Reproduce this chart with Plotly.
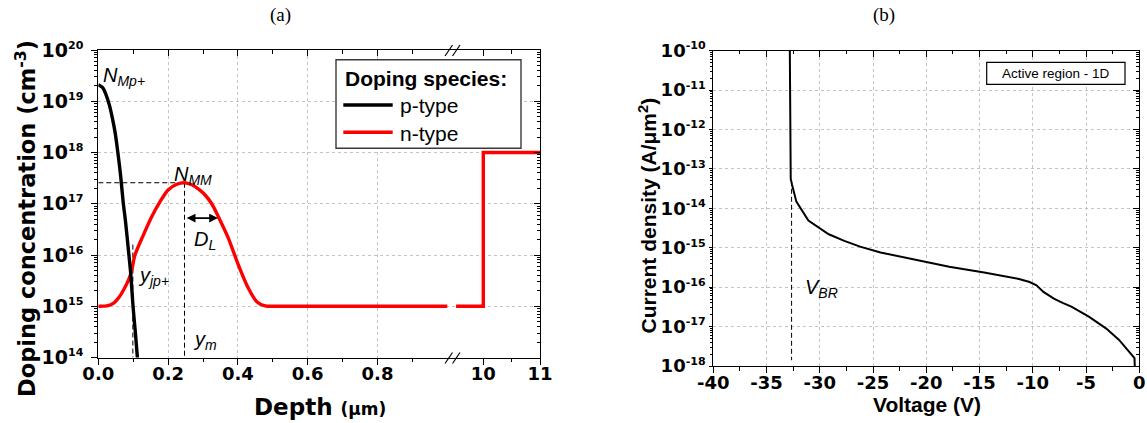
import math
import plotly.graph_objects as go

W, H = 1147, 423

# ---------------- (a) doping profiles ----------------
# p+ implant near the surface
p_depth = [0.0, 0.012, 0.022, 0.032, 0.040, 0.048, 0.057, 0.064, 0.071, 0.078,
           0.087, 0.093, 0.0995, 0.106, 0.112, 0.1145]
p_conc = [2.1e19, 1.86e19, 1.35e19, 8.3e18, 4.8e18, 2.5e18, 8.9e17, 3.5e17, 1.12e17, 4.5e16,
          1.12e16, 4.2e15, 1.0e15, 3.2e14, 1.0e14, 6.3e13]

# n-type buried peak on top of the epi background
n_depth = [0.0, 0.025, 0.045, 0.06, 0.075, 0.087, 0.095, 0.105, 0.129, 0.153,
           0.177, 0.2, 0.225, 0.247, 0.268, 0.29, 0.306, 0.325, 0.344, 0.3725,
           0.401, 0.43, 0.454, 0.478, 0.51, 0.6, 0.8, 1.0]
n_conc = [1.0e15, 1.02e15, 1.17e15, 1.51e15, 2.24e15, 3.3e15, 4.8e15, 1.0e16, 2.45e16, 5.6e16,
          1.1e17, 1.86e17, 2.4e17, 2.57e17, 2.34e17, 1.86e17, 1.48e17, 1.0e17, 5.6e16, 2.14e16,
          6.5e15, 2.24e15, 1.23e15, 1.02e15, 1.0e15, 1.0e15, 1.0e15, 1.0e15]

# deep part of the n-type profile (epi / substrate step)
n_deep_depth = [9.52, 10.0, 10.0, 11.0]
n_deep_conc = [1.0e15, 1.0e15, 1.0e18, 1.0e18]

peak_depth = 0.247          # y_m
peak_conc = 2.57e17         # N_MM
junction_depth = 0.099      # y_jp+
junction_mark_top = 1.6e16
lateral_arrow_depth = [0.249, 0.343]   # D_L
lateral_arrow_conc = 5.25e16

depth_ticks = [0.0, 0.2, 0.4, 0.6, 0.8]
depth_labels = ["0.0", "0.2", "0.4", "0.6", "0.8"]
depth_minor = [0.1, 0.3, 0.5, 0.7, 0.9]
deep_ticks = [10, 11]
deep_labels = ["10", "11"]
deep_minor = [10.5]
conc_ticks = [1e14, 1e15, 1e16, 1e17, 1e18, 1e19, 1e20]
conc_exponents = ["14", "15", "16", "17", "18", "19", "20"]

# ---------------- (b) reverse I-V ----------------
voltage = [-32.82, -32.80, -32.78, -32.73, -32.60, -32.20, -31.07, -30.1, -29.16, -27.7,
           -26.22, -24.3, -22.44, -20.0, -17.85, -14.57, -12.8, -11.3, -10.3, -9.65,
           -9.0, -8.02, -7.2, -6.38, -4.74, -3.1, -1.9, -0.87, -0.45, -0.42]
current = [1.5e-10, 1e-12, 1e-13, 5.6e-14, 3.9e-14, 1.48e-14, 4.9e-15, 3.2e-15, 2.2e-15, 1.5e-15,
           1.07e-15, 7.6e-16, 5.9e-16, 4.4e-16, 3.3e-16, 2.35e-16, 1.9e-16, 1.62e-16, 1.35e-16, 1.12e-16,
           7.6e-17, 5.1e-17, 4.0e-17, 3.2e-17, 1.78e-17, 8.9e-18, 4.6e-18, 2.14e-18, 1.58e-18, 9e-19]
v_br = -32.65
v_br_span = [5e-14, 1.4e-18]

volt_ticks = [-40, -35, -30, -25, -20, -15, -10, -5, 0]
volt_labels = ["-40", "-35", "-30", "-25", "-20", "-15", "-10", "-5", "0"]
cur_ticks = [1e-18, 1e-17, 1e-16, 1e-15, 1e-14, 1e-13, 1e-12, 1e-11, 1e-10]
cur_exponents = ["-18", "-17", "-16", "-15", "-14", "-13", "-12", "-11", "-10"]


def fx(px):
    return px / W


def fy(py):
    return 1 - py / H


def power_label(exp, size):
    return "<b>10<sup><span style='font-size:%dpx'>%s</span></sup></b>" % (size, exp)


SANS = "Liberation Sans, Arial, sans-serif"
WIDE = "DejaVu Sans, Verdana, sans-serif"
SERIF = "Liberation Serif, Times New Roman, serif"

fig = go.Figure()

# dashed guide lines (a)
dash_style = dict(color="black", width=1, dash="5px,3px")
fig.add_trace(go.Scatter(x=[0, peak_depth], y=[peak_conc, peak_conc], mode="lines",
                         line=dash_style, xaxis="x", yaxis="y", showlegend=False, hoverinfo="skip"))
fig.add_trace(go.Scatter(x=[peak_depth, peak_depth], y=[peak_conc, 1e14], mode="lines",
                         line=dash_style, xaxis="x", yaxis="y", showlegend=False, hoverinfo="skip"))
fig.add_trace(go.Scatter(x=[junction_depth, junction_depth], y=[junction_mark_top, 1e14], mode="lines",
                         line=dash_style, xaxis="x", yaxis="y", showlegend=False, hoverinfo="skip"))

# profiles
fig.add_trace(go.Scatter(x=n_depth, y=n_conc, mode="lines", name="n-type",
                         line=dict(color="#ff0000", width=3.4, shape="spline", smoothing=0.8),
                         xaxis="x", yaxis="y", showlegend=False))
fig.add_trace(go.Scatter(x=n_deep_depth, y=n_deep_conc, mode="lines", name="n-type",
                         line=dict(color="#ff0000", width=3.4),
                         xaxis="x2", yaxis="y", showlegend=False))
fig.add_trace(go.Scatter(x=p_depth, y=p_conc, mode="lines", name="p-type",
                         line=dict(color="black", width=3.4, shape="spline", smoothing=0.8),
                         xaxis="x", yaxis="y", showlegend=False))

# (b) breakdown marker and I-V curve
fig.add_trace(go.Scatter(x=[v_br, v_br], y=v_br_span, mode="lines",
                         line=dict(color="black", width=1, dash="5px,3px"),
                         xaxis="x5", yaxis="y3", showlegend=False, hoverinfo="skip"))
fig.add_trace(go.Scatter(x=voltage, y=current, mode="lines", name="Active region - 1D",
                         line=dict(color="black", width=2),
                         xaxis="x5", yaxis="y3", showlegend=False))

# empty traces so the top/right tick axes get their own subplots
for xa, ya in [("x3", "y"), ("x4", "y"), ("x2", "y2"), ("x6", "y3"), ("x5", "y4")]:
    fig.add_trace(go.Scatter(x=[None], y=[None], xaxis=xa, yaxis=ya,
                             showlegend=False, hoverinfo="skip"))

line_style = dict(showline=True, linecolor="black", linewidth=1.3, tickcolor="black",
                  tickwidth=1.3, zeroline=False, automargin=False)
grid_on = dict(showgrid=True, gridcolor="#c4c4c4", gridwidth=1, griddash="dot")
tick_a = dict(family=WIDE, size=19, color="black", weight="bold")
tick_ax = dict(family=WIDE, size=18, color="black", weight="bold")
tick_b = dict(family=WIDE, size=18, color="black", weight="bold")
tick_by = dict(family=WIDE, size=18, color="black", weight="bold")


def minor(ticks, **kw):
    d = dict(ticks=ticks, tickcolor="black", tickwidth=1, showgrid=False)
    d.update(kw)
    return d


xa0, xbrk, xa1 = 98.3, 451.7, 540.0
ya_top, ya_bot = 50.0, 357.5
xb0, xb1 = 713.3, 1139.3
yb_top, yb_bot = 50.7, 366.0
seg1_range = [0, 1.0126]
seg2_range = [9.443, 11]

fig.update_layout(
    width=W, height=H, margin=dict(l=0, r=0, t=0, b=0),
    paper_bgcolor="white", plot_bgcolor="white", showlegend=False,
    xaxis=dict(domain=[fx(xa0), fx(xbrk)], range=seg1_range, anchor="y", side="bottom",
               tickvals=depth_ticks, ticktext=["<b>%s</b>" % t for t in depth_labels],
               ticks="outside", ticklen=6, tickfont=tick_ax, ticklabelstandoff=-6,
               minor=minor("outside", tickvals=depth_minor, ticklen=3.5),
               **line_style, **grid_on),
    xaxis2=dict(domain=[fx(xbrk), fx(xa1)], range=seg2_range, anchor="y", side="bottom",
                tickvals=deep_ticks, ticktext=["<b>%s</b>" % t for t in deep_labels],
                ticks="outside", ticklen=6, tickfont=tick_ax, ticklabelstandoff=-6,
                showgrid=False, minor=minor("outside", tickvals=deep_minor, ticklen=3.5),
                **line_style),
    xaxis3=dict(overlaying="x", range=seg1_range, anchor="y", side="top",
                tickvals=depth_ticks, ticks="inside", ticklen=6, showticklabels=False,
                showgrid=False, minor=minor("inside", tickvals=depth_minor, ticklen=3.5),
                **line_style),
    xaxis4=dict(overlaying="x2", range=seg2_range, anchor="y", side="top",
                tickvals=deep_ticks, ticks="inside", ticklen=6, showticklabels=False,
                showgrid=False, minor=minor("inside", tickvals=deep_minor, ticklen=3.5),
                **line_style),
    yaxis=dict(domain=[fy(ya_bot), fy(ya_top)], type="log", range=[14, 20], anchor="x",
               side="left", tickvals=conc_ticks,
               ticktext=[power_label(e, 11) for e in conc_exponents],
               ticks="outside", ticklen=6, tickfont=tick_a, ticklabelstandoff=4,
               minor=minor("outside", dtick="D1", ticklen=3),
               **line_style, **grid_on),
    yaxis2=dict(overlaying="y", type="log", range=[14, 20], anchor="x2", side="right",
                tickvals=conc_ticks, ticks="inside", ticklen=6, showticklabels=False,
                showgrid=False, minor=minor("inside", dtick="D1", ticklen=3),
                **line_style),
    xaxis5=dict(domain=[fx(xb0), fx(xb1)], range=[-40, 0], anchor="y3", side="bottom",
                tickvals=volt_ticks, ticktext=["<b>%s</b>" % t for t in volt_labels],
                ticks="outside", ticklen=6, tickfont=tick_b, ticklabelstandoff=-6,
                minor=minor("outside", tick0=0, dtick=2.5, ticklen=3.5),
                **line_style, **grid_on),
    xaxis6=dict(overlaying="x5", range=[-40, 0], anchor="y3", side="top",
                tickvals=volt_ticks, ticks="inside", ticklen=6, showticklabels=False,
                showgrid=False, minor=minor("inside", tick0=0, dtick=2.5, ticklen=3.5),
                **line_style),
    yaxis3=dict(domain=[fy(yb_bot), fy(yb_top)], type="log", range=[-18, -10], anchor="x5",
                side="left", tickvals=cur_ticks,
                ticktext=[power_label(e, 11) for e in cur_exponents],
                ticks="outside", ticklen=3, tickfont=tick_by, ticklabelstandoff=0,
                minor=minor("outside", dtick="D1", ticklen=2.5),
                **line_style, **grid_on),
    yaxis4=dict(overlaying="y3", type="log", range=[-18, -10], anchor="x5", side="right",
                tickvals=cur_ticks, ticks="inside", ticklen=6, showticklabels=False,
                showgrid=False, minor=minor("inside", dtick="D1", ticklen=3),
                **line_style),
)

shapes = []
# axis break marks "//" on the depth axis (bottom and top)
for ybase in (ya_bot, ya_top):
    for dx in (0.0, 7.5):
        shapes.append(dict(type="line", xref="paper", yref="paper",
                           x0=fx(445 + dx), y0=fy(ybase + 6), x1=fx(452.5 + dx), y1=fy(ybase - 5),
                           line=dict(color="black", width=1.2)))

# legend frame and samples (a)
shapes.append(dict(type="rect", xref="paper", yref="paper",
                   x0=fx(336), x1=fx(521), y0=fy(148.3), y1=fy(59.7),
                   line=dict(color="#3a3a3a", width=1.4), fillcolor="white"))
shapes.append(dict(type="line", xref="paper", yref="paper",
                   x0=fx(343.3), x1=fx(392.7), y0=fy(105), y1=fy(105),
                   line=dict(color="black", width=3.5)))
shapes.append(dict(type="line", xref="paper", yref="paper",
                   x0=fx(343.3), x1=fx(392.7), y0=fy(132.3), y1=fy(132.3),
                   line=dict(color="#ff0000", width=3.5)))
# label frame (b)
shapes.append(dict(type="rect", xref="paper", yref="paper",
                   x0=fx(986.7), x1=fx(1125), y0=fy(84.3), y1=fy(62.3),
                   line=dict(color="black", width=1.2), fillcolor="white"))
fig.update_layout(shapes=shapes)

ann = []


def text(x, y, s, font, xanchor="center", yanchor="middle", angle=0):
    ann.append(dict(x=fx(x), y=fy(y), xref="paper", yref="paper", text=s, showarrow=False,
                    font=font, xanchor=xanchor, yanchor=yanchor, textangle=angle))


black = "black"
text(280, 15, "(a)", dict(family=SERIF, size=19, color=black))
text(884, 15, "(b)", dict(family=SERIF, size=19, color=black))

# axis titles
text(25, 219, "<b>Doping concentration (cm<sup>-3</sup>)</b>",
     dict(family=WIDE, size=22.5, color=black, weight="bold"), angle=-90)
text(320, 407, "<b>Depth <span style='font-size:17px'>(μm)</span></b>",
     dict(family=WIDE, size=23, color=black, weight="bold"))
text(647, 215.5, "<b>Current density (A/μm<sup>2</sup>)</b>",
     dict(family=SANS, size=21, color=black, weight="bold"), angle=-90)
text(927, 404, "<b>Voltage (V)</b>", dict(family=SANS, size=21, color=black, weight="bold"))

# legend texts (a)
text(343, 78, "<b>Doping species:</b>", dict(family=SANS, size=21, color=black, weight="bold"),
     xanchor="left")
text(398, 106, "p-type", dict(family=SANS, size=21, color=black), xanchor="left")
text(398, 133, "n-type", dict(family=SANS, size=21, color=black), xanchor="left")

# label in (b)
text(1056, 73.3, "Active region - 1D", dict(family=SANS, size=13.5, color=black))

# symbolic labels
lab = dict(family=SANS, size=20, color=black)
text(101, 76, "<i>N<sub>Mp+</sub></i>", lab, xanchor="left")
text(172, 175, "<i>N<sub>MM</sub></i>", lab, xanchor="left")
text(192, 240, "<i>D<sub>L</sub></i>", lab, xanchor="left")
text(136, 276, "<i>y<sub>jp+</sub></i>", lab, xanchor="left")
text(191, 340, "<i>y<sub>m</sub></i>", lab, xanchor="left")
text(803, 288, "<i>V<sub>BR</sub></i>", lab, xanchor="left")

# D_L double arrow (log axis -> log10 coordinates)
ann.append(dict(x=lateral_arrow_depth[1], y=math.log10(lateral_arrow_conc), xref="x", yref="y",
                ax=lateral_arrow_depth[0], ay=math.log10(lateral_arrow_conc), axref="x", ayref="y",
                text="", showarrow=True, arrowside="end+start", arrowhead=2, arrowsize=1.1,
                arrowwidth=1.6, arrowcolor="black", standoff=0, startstandoff=0))

fig.update_layout(annotations=ann)

fig.write_html("out.html")
